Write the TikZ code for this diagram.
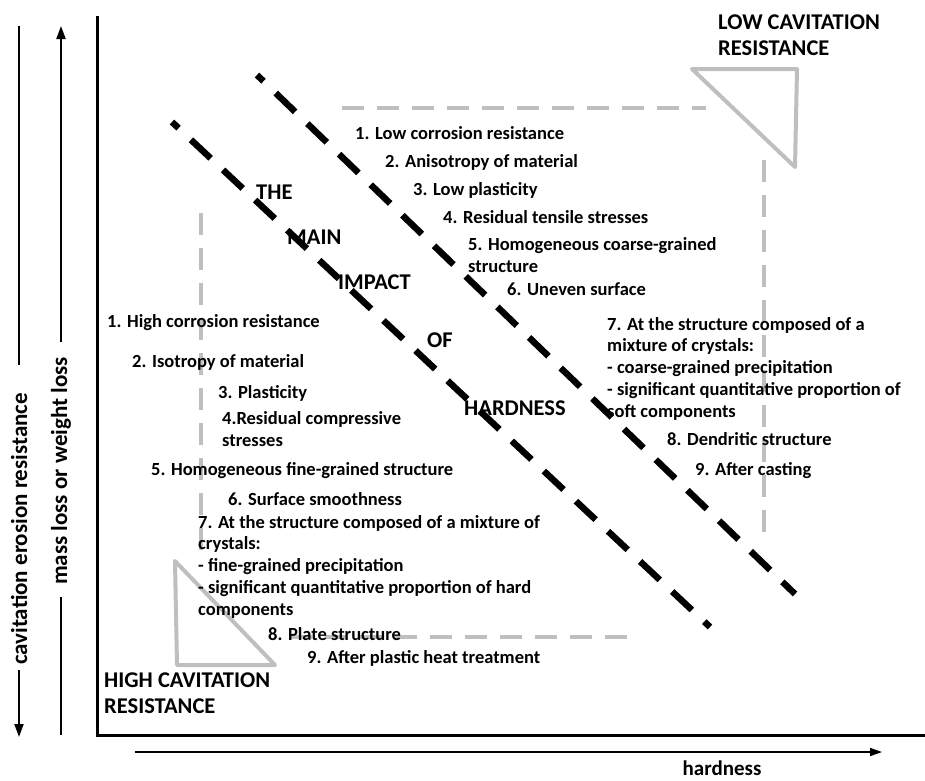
\documentclass[tikz,border=0pt]{standalone}
\usepackage{fontspec}
\setmainfont{Carlito}
\usetikzlibrary{arrows.meta}
\begin{document}
\begin{tikzpicture}[x=1pt,y=-1pt,
  body/.style={font=\fontsize{18.5}{21.75}\selectfont\bfseries, anchor=base west, inner sep=0pt, align=left},
  caps/.style={font=\fontsize{22.5}{26}\selectfont\bfseries, anchor=base west, inner sep=0pt, align=left},
  axlab/.style={font=\fontsize{23}{27}\selectfont\bfseries, inner sep=0pt, rotate=90},
  gdash/.style={draw=black!25, line width=4pt, dash pattern=on 22pt off 13pt},
  gtri/.style={draw=black!25, line width=4pt, line join=round, line cap=round},
  bdash/.style={draw=black, line width=6.5pt, dash pattern=on 27pt off 17pt, dash phase=18pt},
  axline/.style={draw=black, line width=2pt},
  tip/.style={-{Triangle[length=13pt,width=9pt]}},
]
\useasboundingbox (0,0) rectangle (925,780);

% left axis labels
\coordinate (c1) at (19,26);
\coordinate (c2) at (19,365);
\coordinate (c3) at (19,670);
\coordinate (c4) at (19,737);
\node[axlab] (cav) at (19,529) {cavitation erosion resistance};
\draw[axline] (c1) -- (c2);
\draw[axline,tip] (c3) -- (c4);

\coordinate (m1) at (61,26);
\coordinate (m2) at (61,342);
\coordinate (m3) at (61,597);
\coordinate (m4) at (61,735);
\node[axlab] (mass) at (61,471) {mass loss or weight loss};
\draw[axline,tip] (m2) -- (m1);
\draw[axline] (m3) -- (m4);

% main axes
\coordinate (o1) at (97,16);
\coordinate (o2) at (97,735);
\coordinate (o3) at (925,735);
\draw[line width=3pt] (o1) -- (o2) -- (o3);

% hardness arrow
\coordinate (h1) at (135,752);
\coordinate (h2) at (882,752);
\draw[line width=1.6pt,-{Triangle[length=12pt,width=8pt]}] (h1) -- (h2);
\node[font=\fontsize{21}{24}\selectfont\bfseries, inner sep=0pt] (hard) at (722,768) {hardness};

% gray frames
\coordinate (t1) at (692,69);
\coordinate (t2) at (797,69);
\coordinate (t3) at (795,167);
\draw[gtri] (t1) -- (t2) -- (t3) -- cycle;
\coordinate (b1) at (175,561);
\coordinate (b2) at (177,665);
\coordinate (b3) at (275,665);
\draw[gtri] (b1) -- (b2) -- (b3) -- cycle;

\coordinate (g1) at (342,108);
\coordinate (g2) at (706,108);
\coordinate (g3) at (764,160);
\coordinate (g4) at (764,543);
\coordinate (g5) at (201,213);
\coordinate (g6) at (201,556);
\coordinate (g7) at (290,637);
\coordinate (g8) at (627,637);
\draw[gdash] (g1) -- (g2);
\draw[gdash] (g3) -- (g4);
\draw[gdash] (g5) -- (g6);
\draw[gdash] (g7) -- (g8);

% black diagonal dashed lines
\coordinate (d1s) at (172,122);
\coordinate (d1e) at (710,627);
\coordinate (d2s) at (257,75);
\coordinate (d2e) at (795,594);
\draw[bdash] (d1s) -- (d1e);
\draw[bdash] (d2s) -- (d2e);

% corner labels (anchor = baseline of last line)
\node[caps] (low) at (718,55) {LOW CAVITATION\\RESISTANCE};
\node[caps] (high) at (104,713) {HIGH CAVITATION\\RESISTANCE};

% central label
\node[caps] (the) at (256,199) {THE};
\node[caps] (main) at (287,244) {MAIN};
\node[caps] (impact) at (338,289) {IMPACT};
\node[caps] (of) at (427,347) {OF};
\node[caps] (hness) at (464,415) {HARDNESS};

% right group
\node[body] (r1) at (355,139) {1. Low corrosion resistance};
\node[body] (r2) at (385,167) {2. Anisotropy of material};
\node[body] (r3) at (413,195) {3. Low plasticity};
\node[body] (r4) at (443,223) {4. Residual tensile stresses};
\node[body] (r5) at (468,272) {5. Homogeneous coarse-grained\\structure};
\node[body] (r6) at (507,295) {6. Uneven surface};
\node[body] (r7) at (607,417) {7. At the structure composed of a\\mixture of crystals:\\- coarse-grained precipitation\\- significant quantitative proportion of\\soft components};
\node[body] (r8) at (667,445) {8. Dendritic structure};
\node[body] (r9) at (695,475) {9. After casting};

% left group
\node[body] (l1) at (107,327) {1. High corrosion resistance};
\node[body] (l2) at (132,367) {2. Isotropy of material};
\node[body] (l3) at (218,398) {3. Plasticity};
\node[body] (l4) at (222,446) {4.Residual compressive\\stresses};
\node[body] (l5) at (151,475) {5. Homogeneous fine-grained structure};
\node[body] (l6) at (228,505) {6. Surface smoothness};
\node[body] (l7) at (198,615) {7. At the structure composed of a mixture of\\crystals:\\- fine-grained precipitation\\- significant quantitative proportion of hard\\components};
\node[body] (l8) at (268,640) {8. Plate structure};
\node[body] (l9) at (307,663) {9. After plastic heat treatment};
\end{tikzpicture}
\end{document}
